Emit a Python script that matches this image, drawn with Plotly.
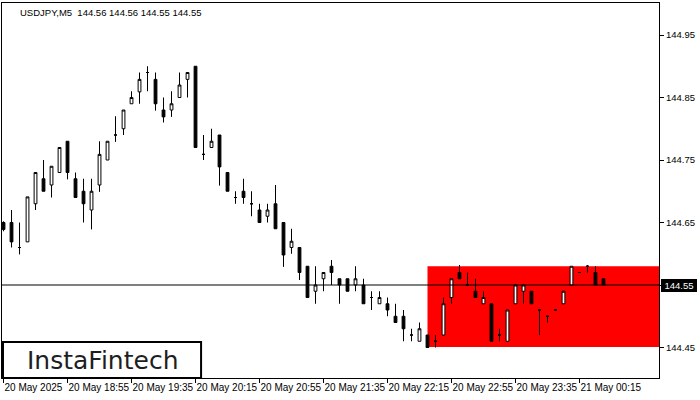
import pandas as pd
import plotly.graph_objects as go

# ---- data (USDJPY, M5) ----
times = pd.date_range("2025-05-20 18:15", periods=76, freq="5min")

opens = [144.650, 144.650, 144.610, 144.619, 144.680, 144.720, 144.710, 144.730, 144.780, 144.720,
         144.700, 144.670, 144.710, 144.750, 144.790, 144.800, 144.840, 144.859, 144.890, 144.879,
         144.830, 144.830, 144.850, 144.879, 144.900, 144.759, 144.770, 144.790, 144.730, 144.690,
         144.700, 144.680, 144.670, 144.660, 144.680, 144.650, 144.610, 144.610, 144.580, 144.540,
         144.560, 144.580, 144.560, 144.560, 144.550, 144.550, 144.530, 144.520, 144.520, 144.500,
         144.500, 144.470, 144.460, 144.470, 144.460, 144.470, 144.530, 144.570, 144.550, 144.540,
         144.520, 144.520, 144.470, 144.460, 144.520, 144.540, 144.540, 144.510, 144.500, 144.510,
         144.520, 144.550, 144.570, 144.580, 144.570, 144.560]
highs = [144.652, 144.670, 144.650, 144.691, 144.730, 144.750, 144.740, 144.770, 144.780, 144.730,
         144.720, 144.720, 144.780, 144.780, 144.820, 144.830, 144.860, 144.890, 144.900, 144.890,
         144.850, 144.860, 144.890, 144.890, 144.900, 144.790, 144.800, 144.790, 144.730, 144.700,
         144.720, 144.700, 144.680, 144.680, 144.710, 144.650, 144.640, 144.610, 144.580, 144.580,
         144.570, 144.590, 144.560, 144.560, 144.580, 144.560, 144.540, 144.540, 144.530, 144.520,
         144.510, 144.480, 144.490, 144.470, 144.470, 144.530, 144.560, 144.582, 144.570, 144.560,
         144.540, 144.520, 144.480, 144.510, 144.550, 144.550, 144.540, 144.510, 144.500, 144.510,
         144.540, 144.580, 144.570, 144.582, 144.580, 144.560]
lows = [144.636, 144.610, 144.599, 144.619, 144.670, 144.700, 144.690, 144.730, 144.719, 144.690,
        144.650, 144.639, 144.699, 144.750, 144.779, 144.790, 144.840, 144.840, 144.860, 144.829,
        144.810, 144.819, 144.850, 144.850, 144.770, 144.750, 144.770, 144.709, 144.700, 144.680,
        144.680, 144.660, 144.650, 144.650, 144.640, 144.579, 144.600, 144.558, 144.530, 144.520,
        144.540, 144.550, 144.520, 144.540, 144.540, 144.520, 144.510, 144.520, 144.500, 144.490,
        144.460, 144.460, 144.460, 144.450, 144.450, 144.470, 144.520, 144.560, 144.550, 144.530,
        144.520, 144.460, 144.460, 144.460, 144.520, 144.520, 144.520, 144.470, 144.490, 144.510,
        144.520, 144.550, 144.570, 144.570, 144.550, 144.550]
closes = [144.639, 144.619, 144.610, 144.691, 144.730, 144.700, 144.740, 144.770, 144.730, 144.690,
          144.680, 144.700, 144.759, 144.780, 144.790, 144.830, 144.850, 144.879, 144.890, 144.840,
          144.819, 144.840, 144.870, 144.890, 144.770, 144.759, 144.780, 144.739, 144.700, 144.690,
          144.690, 144.680, 144.650, 144.670, 144.640, 144.598, 144.620, 144.570, 144.530, 144.550,
          144.570, 144.570, 144.550, 144.540, 144.560, 144.520, 144.530, 144.530, 144.510, 144.490,
          144.480, 144.470, 144.480, 144.450, 144.460, 144.520, 144.560, 144.560, 144.550, 144.530,
          144.530, 144.460, 144.470, 144.510, 144.550, 144.550, 144.520, 144.510, 144.500, 144.510,
          144.540, 144.580, 144.570, 144.580, 144.550, 144.550]

tick_idx = [0, 8, 16, 24, 32, 40, 48, 56, 64, 72]
x_tick_labels = ["20 May 2025", "20 May 18:55", "20 May 19:35", "20 May 20:15", "20 May 20:55",
                 "20 May 21:35", "20 May 22:15", "20 May 22:55", "20 May 23:35", "21 May 00:15"]
y_ticks = [144.45, 144.55, 144.65, 144.75, 144.85, 144.95]
title_text = "USDJPY,M5  144.56 144.56 144.55 144.55"
current_price = 144.55
rect_start_idx = 53
rect_low, rect_high = 144.451, 144.58

# ---- figure ----
bar = pd.Timedelta(minutes=5)
x_range = [times[0] - bar * 0.19, times[0] + bar * 81.94]
y_range = [144.4012, 145.0012]

fig = go.Figure()
fig.add_trace(go.Candlestick(
    x=times, open=opens, high=highs, low=lows, close=closes,
    increasing=dict(fillcolor="white", line=dict(color="black", width=1)),
    decreasing=dict(fillcolor="black", line=dict(color="black", width=1)),
    whiskerwidth=0, showlegend=False, hoverinfo="skip",
))

# red rectangle (background)
fig.add_shape(type="rect", xref="x", yref="y",
              x0=times[rect_start_idx], x1=x_range[1], y0=rect_low, y1=rect_high,
              fillcolor="#FF0000", line=dict(width=0), layer="below")
# current price line
fig.add_shape(type="line", xref="paper", yref="y", x0=0, x1=1,
              y0=current_price, y1=current_price,
              line=dict(color="black", width=1), layer="above")
# logo box
fig.add_shape(type="rect", xref="paper", yref="paper",
              x0=0.0015, x1=0.303, y0=0.0, y1=0.096,
              fillcolor="white", line=dict(color="black", width=2), layer="above")

fig.add_annotation(xref="paper", yref="paper", x=0.153, y=0.046, text="InstaFintech",
                   showarrow=False, xanchor="center", yanchor="middle",
                   font=dict(family="DejaVu Sans", size=25, color="#1e1e1e"))
fig.add_annotation(xref="paper", yref="paper", x=0.024, y=1, yshift=-2, text=title_text,
                   showarrow=False, xanchor="left", yanchor="top",
                   font=dict(family="Liberation Sans", size=9.5, color="black"))
fig.add_annotation(xref="paper", yref="y", x=1, xshift=2, y=current_price, text=f"{current_price:.2f}",
                   showarrow=False, xanchor="left", yanchor="middle",
                   bgcolor="black", bordercolor="black", borderwidth=1, borderpad=1,
                   width=32, height=9, align="center",
                   font=dict(family="Liberation Sans", size=9.5, color="white"))

fig.update_layout(
    width=700, height=400,
    margin=dict(l=2, r=41, t=3, b=22),
    paper_bgcolor="white", plot_bgcolor="white",
    boxgap=0.5,
    showlegend=False,
    xaxis=dict(
        range=x_range, rangeslider=dict(visible=False),
        showgrid=False, zeroline=False,
        showline=True, linecolor="black", linewidth=1, mirror=True,
        ticks="outside", ticklen=4, tickcolor="black", tickwidth=1,
        tickvals=[times[i] for i in tick_idx], ticktext=x_tick_labels,
        ticklabelposition="outside right", tickangle=0,
        tickfont=dict(family="Liberation Sans", size=10, color="black"),
    ),
    yaxis=dict(
        range=y_range, side="right",
        showgrid=False, zeroline=False,
        showline=True, linecolor="black", linewidth=1, mirror=True,
        ticks="outside", ticklen=4, tickcolor="black", tickwidth=1,
        tickvals=y_ticks, ticktext=[f"{v:.2f}" for v in y_ticks],
        tickfont=dict(family="Liberation Sans", size=9.5, color="black"),
    ),
)

fig.write_html("out.html", config={"displayModeBar": False},
               post_script="document.body.style.margin='0';document.body.style.padding='0';")
